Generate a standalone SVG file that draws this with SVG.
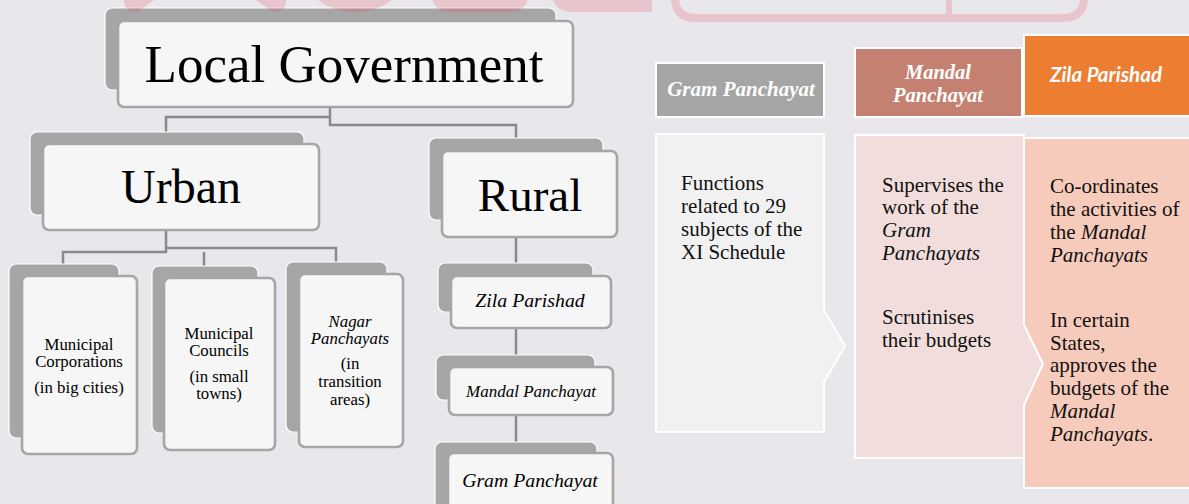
<svg xmlns="http://www.w3.org/2000/svg" width="1189" height="504" viewBox="0 0 1189 504">
<style>
.bg{fill:#e9e7ec}
.sh{fill:#a6a6a6;stroke:#ffffff;stroke-width:1.2}
.fr{fill:#f6f6f6;stroke:#a6a6a6;stroke-width:2.6}
.con{fill:none;stroke:#8a8a8a;stroke-width:2.5}
.t{font-family:"Liberation Serif","Times New Roman",serif;fill:#000000;text-anchor:middle}
.i{font-style:italic}
.b{font-family:"Liberation Serif","Times New Roman",serif;font-size:21px;fill:#111111}
.hd{font-family:"Liberation Serif","Times New Roman",serif;font-weight:bold;font-style:italic;fill:#ffffff;text-anchor:middle}
.wm{fill:#e63c50;opacity:0.2}
.wms{fill:none;stroke:#e63c50;stroke-opacity:0.2}
</style>
<rect class="bg" x="0" y="0" width="1189" height="504"/>

<g id="connectors">
<path class="con" d="M330,107 V125 H516 V140"/>
<path class="con" d="M330,117 H166 V134"/>
<path class="con" d="M166,230 V252 H63 V266"/>
<path class="con" d="M204,252 V268"/>
<path class="con" d="M166,248 H336 V264"/>
<path class="con" d="M516,237 V455"/>
</g>

<g id="local-government">
<rect class="sh" x="105" y="8" width="451" height="82" rx="7"/>
<rect class="fr" x="118" y="21" width="455" height="86" rx="6"/>
<text class="t" x="344" y="82" font-size="53">Local Government</text>
</g>

<g id="urban">
<rect class="sh" x="30" y="132" width="274" height="83" rx="7"/>
<rect class="fr" x="43" y="144" width="276" height="86" rx="6"/>
<text class="t" x="181" y="203" font-size="48">Urban</text>
</g>

<g id="rural">
<rect class="sh" x="429" y="138" width="174" height="82" rx="7"/>
<rect class="fr" x="442" y="151" width="175" height="86" rx="6"/>
<text class="t" x="530" y="211" font-size="47">Rural</text>
</g>

<g id="municipal-corporations">
<rect class="sh" x="9" y="264" width="110" height="174" rx="7"/>
<rect class="fr" x="22" y="276" width="115" height="178" rx="6"/>
<text class="t" font-size="16.8"><tspan x="79" y="350">Municipal</tspan><tspan x="79" y="367">Corporations</tspan><tspan x="79" y="393">(in big cities)</tspan></text>
</g>

<g id="municipal-councils">
<rect class="sh" x="152" y="266" width="106" height="167" rx="7"/>
<rect class="fr" x="164" y="278" width="111" height="172" rx="6"/>
<text class="t" font-size="16.8"><tspan x="219" y="339">Municipal</tspan><tspan x="219" y="356">Councils</tspan><tspan x="219" y="382">(in small</tspan><tspan x="219" y="399">towns)</tspan></text>
</g>

<g id="nagar-panchayats">
<rect class="sh" x="286" y="262" width="101" height="170" rx="7"/>
<rect class="fr" x="299" y="274" width="104" height="173" rx="6"/>
<text class="t" font-size="16.8"><tspan class="i" x="350" y="327">Nagar</tspan><tspan class="i" x="350" y="344">Panchayats</tspan><tspan x="350" y="369">(in</tspan><tspan x="350" y="387">transition</tspan><tspan x="350" y="405">areas)</tspan></text>
</g>

<g id="zila-parishad">
<rect class="sh" x="438" y="263" width="155" height="49" rx="7"/>
<rect class="fr" x="451" y="276" width="160" height="52" rx="6"/>
<text class="t i" x="530" y="307" font-size="19.8">Zila Parishad</text>
</g>

<g id="mandal-panchayat">
<rect class="sh" x="436" y="355" width="159" height="45" rx="7"/>
<rect class="fr" x="449" y="367" width="164" height="48" rx="6"/>
<text class="t i" x="531" y="397" font-size="17">Mandal Panchayat</text>
</g>

<g id="gram-panchayat">
<rect class="sh" x="435" y="442" width="162" height="80" rx="7"/>
<rect class="fr" x="448" y="453" width="165" height="80" rx="6"/>
<text class="t i" x="530" y="487" font-size="19.8">Gram Panchayat</text>
</g>

<g id="col-gram">
<rect x="656" y="63" width="168" height="54" fill="#a5a5a5" stroke="#ffffff" stroke-width="2"/>
<text class="hd" x="741" y="96" font-size="21">Gram Panchayat</text>
<path d="M656,134 H824 V310 L845,346 L824,382 V432 H656 Z" fill="#f1f1f1" stroke="#ffffff" stroke-width="2"/>
<text class="b"><tspan x="681" y="190">Functions</tspan><tspan x="681" y="213">related to 29</tspan><tspan x="681" y="236">subjects of the</tspan><tspan x="681" y="259">XI Schedule</tspan></text>
</g>

<g id="col-zila">
<rect x="1024" y="35" width="170" height="81" fill="#ed7d31" stroke="#ffffff" stroke-width="2"/>
<text x="1106" y="82" font-family="Lato,'Liberation Sans',sans-serif" font-weight="bold" font-style="italic" font-size="20.5" fill="#ffffff" text-anchor="middle">Zila Parishad</text>
<rect x="1024" y="138" width="170" height="350" fill="#f7cbbb" stroke="#ffffff" stroke-width="2"/>
<text class="b"><tspan x="1050" y="193">Co-ordinates</tspan><tspan x="1050" y="216">the activities of</tspan><tspan x="1050" y="239">the <tspan class="i">Mandal</tspan></tspan><tspan class="i" x="1050" y="262">Panchayats</tspan><tspan x="1050" y="327">In certain</tspan><tspan x="1050" y="350">States,</tspan><tspan x="1050" y="372">approves the</tspan><tspan x="1050" y="395">budgets of the</tspan><tspan class="i" x="1050" y="418">Mandal</tspan><tspan x="1050" y="441"><tspan class="i">Panchayats</tspan>.</tspan></text>
</g>

<g id="col-mandal">
<rect x="855" y="48" width="167" height="69" fill="#c48171" stroke="#ffffff" stroke-width="2"/>
<text class="hd" font-size="20.5"><tspan x="938" y="79">Mandal</tspan><tspan x="938" y="102">Panchayat</tspan></text>
<path d="M855,135 H1024 V325 L1043,364 L1024,405 V458 H855 Z" fill="#f1dedc" stroke="#ffffff" stroke-width="2"/>
<text class="b"><tspan x="882" y="192">Supervises the</tspan><tspan x="882" y="214">work of the</tspan><tspan class="i" x="882" y="237">Gram</tspan><tspan class="i" x="882" y="260">Panchayats</tspan><tspan x="882" y="324">Scrutinises</tspan><tspan x="882" y="347">their budgets</tspan></text>
</g>

<g id="watermark">
<line class="wms" x1="168" y1="-22" x2="134" y2="2" stroke-width="20" stroke-linecap="round"/>
<line class="wms" x1="242" y1="-22" x2="276" y2="2" stroke-width="20" stroke-linecap="round"/>
<ellipse class="wm" cx="355" cy="-22" rx="48" ry="34"/>
<path class="wm" d="M432,-10 V-6 Q432,12 452,12 H508 Q528,12 528,-6 V-10 Z"/>
<path class="wm" d="M552,-10 V-8 Q552,12 574,12 H652 V-10 Z"/>
<path class="wms" stroke-width="8" d="M675,-10 V-2 Q675,18 697,18 H1062 Q1084,18 1084,-2 V-10"/>
<line class="wms" x1="949" y1="-5" x2="949" y2="14" stroke-width="6"/>
</g>
</svg>
